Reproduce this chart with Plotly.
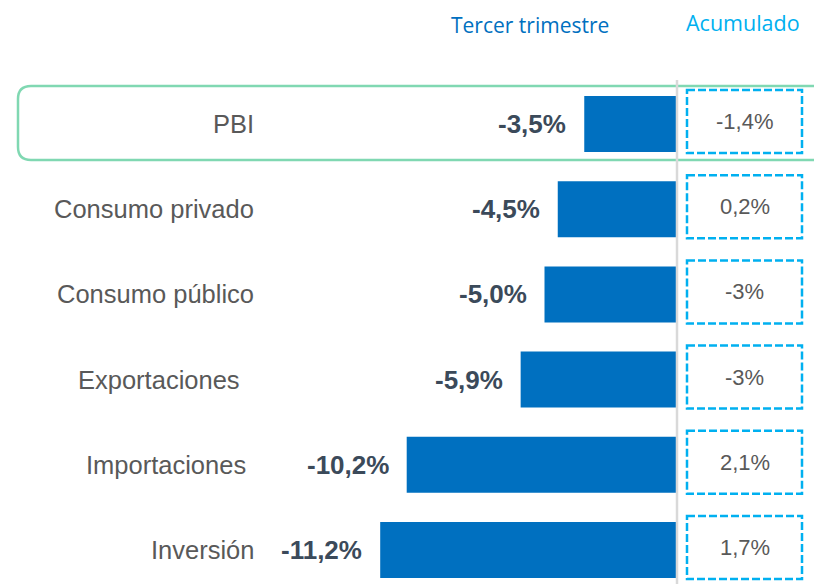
import plotly.graph_objects as go

categories = ["PBI", "Consumo privado", "Consumo público", "Exportaciones", "Importaciones", "Inversión"]
trimestre = [-3.5, -4.5, -5.0, -5.9, -10.2, -11.2]
trimestre_labels = ["-3,5%", "-4,5%", "-5,0%", "-5,9%", "-10,2%", "-11,2%"]
acumulado_labels = ["-1,4%", "0,2%", "-3%", "-3%", "2,1%", "1,7%"]
header_trimestre = "Tercer trimestre"
header_acumulado = "Acumulado"

W, H = 814, 584
PX_PER_UNIT = 26.5
ZERO_PX = 677
ROW0 = 124
ROW_STEP = 85.2

x_min = -ZERO_PX / PX_PER_UNIT
x_max = (W - ZERO_PX) / PX_PER_UNIT
y_top = -ROW0 / ROW_STEP
y_bot = (H - ROW0) / ROW_STEP

def px(x):
    return x / W

def py(y):
    return 1 - y / H

label_right_px = [256, 256, 256, 242, 248, 256]

fig = go.Figure()
fig.add_trace(go.Bar(
    x=trimestre, y=categories, orientation="h",
    width=56 / ROW_STEP,
    marker=dict(color="#0070c0", line=dict(width=0)),
    hoverinfo="skip", showlegend=False,
))

annotations = []
shapes = []

# rounded highlight around PBI row
l, r, t, b, rad = 18, 830, 86, 160, 13
path = (f"M {px(l+rad)},{py(t)} L {px(r)},{py(t)} L {px(r)},{py(b)} L {px(l+rad)},{py(b)} "
        f"Q {px(l)},{py(b)} {px(l)},{py(b-rad)} L {px(l)},{py(t+rad)} "
        f"Q {px(l)},{py(t)} {px(l+rad)},{py(t)} Z")
shapes.append(dict(type="path", xref="paper", yref="paper", path=path,
                   line=dict(color="#80d8b2", width=2.5), fillcolor="rgba(0,0,0,0)", layer="below"))

# zero line
shapes.append(dict(type="line", xref="x", yref="paper", x0=0, x1=0, y0=0, y1=py(80),
                   line=dict(color="#d9d9d9", width=2.5), layer="above"))

box_off = 2.5 / ROW_STEP
box_half = 31.5 / ROW_STEP

for i, cat in enumerate(categories):
    annotations.append(dict(x=px(label_right_px[i]), xref="paper", y=cat, yref="y",
                            text=cat, showarrow=False, xanchor="right", yanchor="middle",
                            font=dict(family="Liberation Sans, Arial", size=25.5, color="#595959")))
    annotations.append(dict(x=trimestre[i], xref="x", y=cat, yref="y",
                            text=f"<b>{trimestre_labels[i]}</b>", showarrow=False,
                            xanchor="right", yanchor="middle", xshift=-16,
                            font=dict(family="Liberation Sans, Arial", size=26, color="#3b4a5a")))
    shapes.append(dict(type="rect", xref="paper", yref="y",
                       x0=px(687), x1=px(802), y0=i - box_off - box_half, y1=i - box_off + box_half,
                       line=dict(color="#00b0f0", width=2.5, dash="8px,3px"),
                       fillcolor="rgba(0,0,0,0)"))
    annotations.append(dict(x=px(744.5), xref="paper", y=i - box_off, yref="y",
                            text=acumulado_labels[i], showarrow=False,
                            xanchor="center", yanchor="middle",
                            font=dict(family="Liberation Sans, Arial", size=22, color="#595959")))

annotations.append(dict(x=px(530), xref="paper", y=py(25), yref="paper",
                        text=header_trimestre, showarrow=False, xanchor="center", yanchor="middle",
                        font=dict(family="Open Sans", size=21, color="#0070c0")))
annotations.append(dict(x=px(743), xref="paper", y=py(23), yref="paper",
                        text=header_acumulado, showarrow=False, xanchor="center", yanchor="middle",
                        font=dict(family="Open Sans", size=21.5, color="#00b0f0")))

fig.update_layout(
    width=W, height=H,
    margin=dict(l=0, r=0, t=0, b=0),
    paper_bgcolor="white", plot_bgcolor="white",
    xaxis=dict(range=[x_min, x_max], visible=False, fixedrange=True),
    yaxis=dict(type="category", categoryorder="array", categoryarray=categories,
               range=[y_bot, y_top], visible=False, fixedrange=True),
    shapes=shapes, annotations=annotations,
    showlegend=False,
)

fig.write_html("out.html", config={"displayModeBar": False},
               post_script="document.body.style.margin='0px';document.body.style.overflow='hidden';")
